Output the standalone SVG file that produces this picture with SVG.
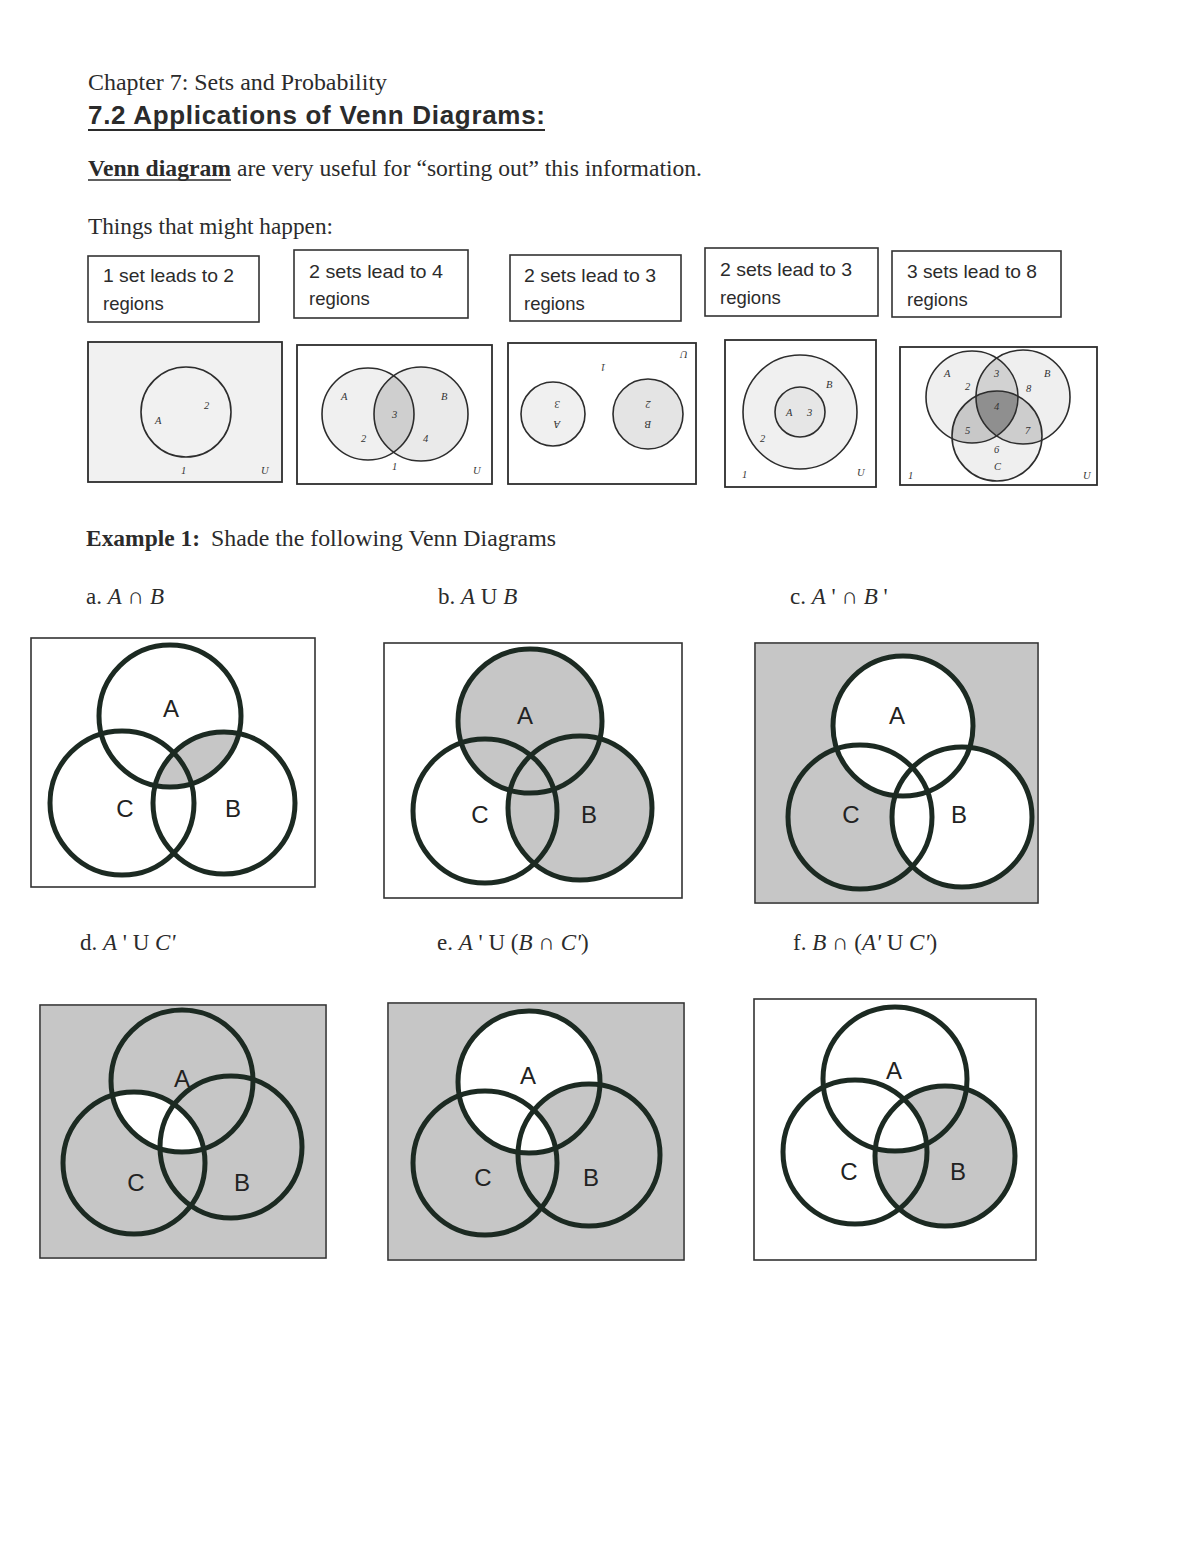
<svg xmlns="http://www.w3.org/2000/svg" width="1200" height="1553" viewBox="0 0 1200 1553">
<style>
.serif{font-family:"Liberation Serif","DejaVu Serif",serif;fill:#2b2b2b}
.sans{font-family:"Liberation Sans","DejaVu Sans",sans-serif;fill:#2b2b2b}
.box{fill:#fff;stroke:#333;stroke-width:1.6}
.boxt{font-family:"Liberation Sans","DejaVu Sans",sans-serif;font-size:18.5px;fill:#2b2b2b}
.sframe{fill:#fff;stroke:#2d2d2d;stroke-width:1.8}
.sc{fill:none;stroke:#2d2d2d;stroke-width:1.6}
.sl{font-family:"Liberation Serif","DejaVu Serif",serif;font-style:italic;font-size:10.5px;fill:#333}
.frame{fill:#fff;stroke:#333;stroke-width:1.6}
.c{fill:none;stroke:#1c2a22;stroke-width:5}
.big{font-family:"Liberation Sans","DejaVu Sans",sans-serif;font-size:24px;fill:#222;text-anchor:middle}
.shade{fill:#c6c6c6}
.it{font-style:italic}
</style>
<defs>
<clipPath id="aA"><circle cx="170" cy="716" r="71"/></clipPath>
<mask id="cM"><rect x="0" y="0" width="1200" height="1553" fill="#fff"/><circle cx="903" cy="726" r="70" fill="#000"/><circle cx="962" cy="817" r="70" fill="#000"/></mask>
<clipPath id="dA"><circle cx="182" cy="1081" r="71"/></clipPath>
<mask id="dM"><rect x="0" y="0" width="1200" height="1553" fill="#fff"/><circle cx="134" cy="1163" r="71" fill="#000" clip-path="url(#dA)"/></mask>
<clipPath id="eA"><circle cx="529" cy="1082" r="71"/></clipPath>
<mask id="eM"><rect x="0" y="0" width="1200" height="1553" fill="#fff"/><circle cx="529" cy="1082" r="71" fill="#000"/><circle cx="589" cy="1155" r="71" fill="#fff" clip-path="url(#eA)"/><circle cx="485" cy="1163" r="72" fill="#000" clip-path="url(#eA)"/></mask>
<clipPath id="fA"><circle cx="895" cy="1079" r="72"/></clipPath>
<mask id="fM"><rect x="0" y="0" width="1200" height="1553" fill="#fff"/><circle cx="855" cy="1152" r="72" fill="#000" clip-path="url(#fA)"/></mask>
<clipPath id="s2A"><circle cx="368" cy="414" r="46"/></clipPath>
<clipPath id="s5A"><circle cx="972" cy="397" r="46"/></clipPath>
<clipPath id="s5B"><circle cx="1023" cy="397" r="47"/></clipPath>
<clipPath id="s5C"><circle cx="997" cy="436" r="45"/></clipPath>
</defs>
<rect width="1200" height="1553" fill="#fff"/>

<g id="header">
<text class="serif" x="88" y="90" font-size="23.5" textLength="299" lengthAdjust="spacingAndGlyphs">Chapter 7:  Sets and Probability</text>
<text class="sans" x="88" y="124" font-size="26" font-weight="bold" textLength="457">7.2 Applications of Venn Diagrams:</text>
<line x1="88" y1="130" x2="545" y2="130" stroke="#2b2b2b" stroke-width="2"/>
<text class="serif" x="88" y="176" font-size="22.5" font-weight="bold" textLength="143" lengthAdjust="spacingAndGlyphs">Venn diagram</text>
<line x1="88" y1="180" x2="231" y2="180" stroke="#2b2b2b" stroke-width="1.6"/>
<text class="serif" x="237" y="176" font-size="22.5" textLength="465" lengthAdjust="spacingAndGlyphs">are very useful for “sorting out” this information.</text>
<text class="serif" x="88" y="234" font-size="22.5" textLength="245" lengthAdjust="spacingAndGlyphs">Things that might happen:</text>
</g>

<g id="box1"><rect class="box" x="88" y="256" width="171" height="66"/><text class="boxt" x="103" y="282" textLength="131" lengthAdjust="spacingAndGlyphs">1 set leads to 2</text><text class="boxt" x="103" y="310">regions</text></g>
<g id="box2"><rect class="box" x="294" y="250" width="174" height="68"/><text class="boxt" x="309" y="278" textLength="134" lengthAdjust="spacingAndGlyphs">2 sets lead to 4</text><text class="boxt" x="309" y="305">regions</text></g>
<g id="box3"><rect class="box" x="510" y="255" width="171" height="66"/><text class="boxt" x="524" y="282" textLength="132" lengthAdjust="spacingAndGlyphs">2 sets lead to 3</text><text class="boxt" x="524" y="310">regions</text></g>
<g id="box4"><rect class="box" x="705" y="248" width="173" height="68"/><text class="boxt" x="720" y="276" textLength="132" lengthAdjust="spacingAndGlyphs">2 sets lead to 3</text><text class="boxt" x="720" y="304">regions</text></g>
<g id="box5"><rect class="box" x="892" y="251" width="169" height="66"/><text class="boxt" x="907" y="278" textLength="130" lengthAdjust="spacingAndGlyphs">3 sets lead to 8</text><text class="boxt" x="907" y="306">regions</text></g>

<g id="small1">
<rect class="sframe" x="88" y="342" width="194" height="140" style="fill:#f1f1f1"/>
<circle class="sc" cx="186" cy="412" r="45"/>
<text class="sl" x="155" y="424">A</text><text class="sl" x="204" y="409">2</text><text class="sl" x="181" y="474">1</text><text class="sl" x="261" y="474">U</text>
</g>
<g id="small2">
<rect class="sframe" x="297" y="345" width="195" height="139"/>
<circle cx="368" cy="414" r="46" fill="#f0f0f0"/>
<circle cx="421" cy="414" r="47" fill="#eaeaea"/>
<circle cx="421" cy="414" r="47" fill="#cfcfcf" clip-path="url(#s2A)"/>
<circle class="sc" cx="368" cy="414" r="46"/>
<circle class="sc" cx="421" cy="414" r="47"/>
<text class="sl" x="341" y="400">A</text><text class="sl" x="441" y="400">B</text><text class="sl" x="392" y="418">3</text><text class="sl" x="361" y="442">2</text><text class="sl" x="423" y="442">4</text><text class="sl" x="392" y="470">1</text><text class="sl" x="473" y="474">U</text>
</g>
<g id="small3">
<rect class="sframe" x="508" y="343" width="188" height="141"/>
<circle cx="553" cy="414" r="32" fill="#f0f0f0"/>
<circle cx="648" cy="414" r="35" fill="#e4e4e4"/>
<circle class="sc" cx="553" cy="414" r="32"/>
<circle class="sc" cx="648" cy="414" r="35"/>
<text class="sl" x="557" y="401" text-anchor="middle" transform="rotate(180 557 401)">3</text>
<text class="sl" x="557" y="421" text-anchor="middle" transform="rotate(180 557 421)">A</text>
<text class="sl" x="648" y="401" text-anchor="middle" transform="rotate(180 648 401)">2</text>
<text class="sl" x="648" y="421" text-anchor="middle" transform="rotate(180 648 421)">B</text>
<text class="sl" x="603" y="364" text-anchor="middle" transform="rotate(180 603 364)">1</text>
<text class="sl" x="684" y="351" text-anchor="middle" transform="rotate(180 684 351)">U</text>
</g>
<g id="small4">
<rect class="sframe" x="725" y="340" width="151" height="147"/>
<circle cx="800" cy="412" r="57" fill="#f0f0f0"/>
<circle cx="800" cy="412" r="25" fill="#e6e6e6"/>
<circle class="sc" cx="800" cy="412" r="57"/>
<circle class="sc" cx="800" cy="412" r="25"/>
<text class="sl" x="786" y="416">A</text><text class="sl" x="807" y="416">3</text><text class="sl" x="826" y="388">B</text><text class="sl" x="760" y="442">2</text><text class="sl" x="742" y="478">1</text><text class="sl" x="857" y="476">U</text>
</g>
<g id="small5">
<rect class="sframe" x="900" y="347" width="197" height="138"/>
<circle cx="972" cy="397" r="46" fill="#efefef"/>
<circle cx="1023" cy="397" r="47" fill="#efefef"/>
<circle cx="997" cy="436" r="45" fill="#efefef"/>
<g clip-path="url(#s5A)"><circle cx="1023" cy="397" r="47" fill="#d2d2d2"/><circle cx="997" cy="436" r="45" fill="#c8c8c8"/></g>
<g clip-path="url(#s5B)"><circle cx="997" cy="436" r="45" fill="#cdcdcd"/></g>
<g clip-path="url(#s5A)"><g clip-path="url(#s5B)"><circle cx="997" cy="436" r="45" fill="#8f8f8f"/></g></g>
<circle class="sc" cx="972" cy="397" r="46"/>
<circle class="sc" cx="1023" cy="397" r="47"/>
<circle class="sc" cx="997" cy="436" r="45"/>
<text class="sl" x="944" y="377">A</text><text class="sl" x="1044" y="377">B</text><text class="sl" x="965" y="390">2</text><text class="sl" x="994" y="377">3</text><text class="sl" x="1026" y="392">8</text><text class="sl" x="994" y="410">4</text><text class="sl" x="965" y="434">5</text><text class="sl" x="1025" y="434">7</text><text class="sl" x="994" y="453">6</text><text class="sl" x="994" y="470">C</text><text class="sl" x="908" y="479">1</text><text class="sl" x="1083" y="479">U</text>
</g>

<g id="example">
<text class="serif" x="86" y="546" font-size="22.5" font-weight="bold" textLength="114" lengthAdjust="spacingAndGlyphs">Example 1:</text>
<text class="serif" x="211" y="546" font-size="22.5" textLength="345" lengthAdjust="spacingAndGlyphs">Shade the following Venn Diagrams</text>
<text class="serif" x="86" y="604" font-size="23">a.  <tspan class="it">A</tspan> ∩ <tspan class="it">B</tspan></text>
<text class="serif" x="438" y="604" font-size="23">b.  <tspan class="it">A</tspan> U <tspan class="it">B</tspan></text>
<text class="serif" x="790" y="604" font-size="23">c.  <tspan class="it">A</tspan> ' ∩ <tspan class="it">B</tspan> '</text>
<text class="serif" x="80" y="950" font-size="23">d.  <tspan class="it">A</tspan> ' U <tspan class="it">C'</tspan></text>
<text class="serif" x="437" y="950" font-size="23">e.  <tspan class="it">A</tspan> ' U (<tspan class="it">B</tspan> ∩ <tspan class="it">C'</tspan>)</text>
<text class="serif" x="793" y="950" font-size="23">f.  <tspan class="it">B</tspan> ∩ (<tspan class="it">A'</tspan> U <tspan class="it">C'</tspan>)</text>
</g>

<g id="venn-a">
<rect class="frame" x="31" y="638" width="284" height="249"/>
<circle class="shade" cx="224" cy="803" r="71" clip-path="url(#aA)"/>
<circle class="c" cx="170" cy="716" r="71"/>
<circle class="c" cx="122" cy="803" r="72"/>
<circle class="c" cx="224" cy="803" r="71"/>
<text class="big" x="171" y="717">A</text><text class="big" x="125" y="817">C</text><text class="big" x="233" y="817">B</text>
</g>

<g id="venn-b">
<rect class="frame" x="384" y="643" width="298" height="255"/>
<circle class="shade" cx="530" cy="721" r="72"/>
<circle class="shade" cx="580" cy="808" r="72"/>
<circle class="c" cx="530" cy="721" r="72"/>
<circle class="c" cx="485" cy="811" r="72"/>
<circle class="c" cx="580" cy="808" r="72"/>
<text class="big" x="525" y="724">A</text><text class="big" x="480" y="823">C</text><text class="big" x="589" y="823">B</text>
</g>

<g id="venn-c">
<rect class="frame" x="755" y="643" width="283" height="260"/>
<rect class="shade" x="756" y="644" width="281" height="258" mask="url(#cM)"/>
<circle class="c" cx="903" cy="726" r="70"/>
<circle class="c" cx="860" cy="817" r="72"/>
<circle class="c" cx="962" cy="817" r="70"/>
<text class="big" x="897" y="724">A</text><text class="big" x="851" y="823">C</text><text class="big" x="959" y="823">B</text>
</g>

<g id="venn-d">
<rect class="frame" x="40" y="1005" width="286" height="253"/>
<rect class="shade" x="41" y="1006" width="284" height="251" mask="url(#dM)"/>
<circle class="c" cx="182" cy="1081" r="71"/>
<circle class="c" cx="134" cy="1163" r="71"/>
<circle class="c" cx="231" cy="1147" r="71"/>
<text class="big" x="182" y="1087">A</text><text class="big" x="136" y="1191">C</text><text class="big" x="242" y="1191">B</text>
</g>

<g id="venn-e">
<rect class="frame" x="388" y="1003" width="296" height="257"/>
<rect class="shade" x="389" y="1004" width="294" height="255" mask="url(#eM)"/>
<circle class="c" cx="529" cy="1082" r="71"/>
<circle class="c" cx="485" cy="1163" r="72"/>
<circle class="c" cx="589" cy="1155" r="71"/>
<text class="big" x="528" y="1084">A</text><text class="big" x="483" y="1186">C</text><text class="big" x="591" y="1186">B</text>
</g>

<g id="venn-f">
<rect class="frame" x="754" y="999" width="282" height="261"/>
<circle class="shade" cx="945" cy="1156" r="70" mask="url(#fM)"/>
<circle class="c" cx="895" cy="1079" r="72"/>
<circle class="c" cx="855" cy="1152" r="72"/>
<circle class="c" cx="945" cy="1156" r="70"/>
<text class="big" x="894" y="1079">A</text><text class="big" x="849" y="1180">C</text><text class="big" x="958" y="1180">B</text>
</g>
</svg>
